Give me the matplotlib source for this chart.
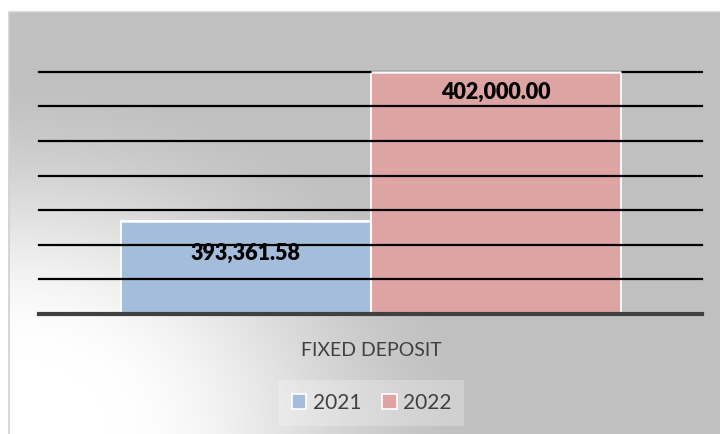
import numpy as np
import matplotlib
matplotlib.use("Agg")
import matplotlib.pyplot as plt
from matplotlib.patches import Patch

# ---- data ----
category = "FIXED DEPOSIT"
series_names = ["2021", "2022"]
values = [393361.58, 402000.00]
value_labels = ["393,361.58", "402,000.00"]
colors = ["#a3bddb", "#dea3a3"]

y_min, y_max, y_step = 388000, 402000, 2000

W, H, DPI = 720, 434, 100
fig = plt.figure(figsize=(W / DPI, H / DPI), dpi=DPI)
fig.patch.set_facecolor("white")

# ---- background gradient (chart area) ----
x0, y0 = 9, 12
bg = fig.add_axes([0, 0, 1, 1], zorder=0)
bg.set_axis_off()
xx, yy = np.meshgrid(np.arange(W) + 0.5, np.arange(H) + 0.5)
dx = xx - x0
dy = (H - yy) * 1.3
r = np.sqrt(dx ** 2 + dy ** 2)
t = np.clip((r - 100) / 380, 0, 1)
t = t * t * (3 - 2 * t)
gray = 192 / 255
img = 1 - (1 - gray) * t
img[(xx < x0) | (yy < y0)] = 1.0
bg.imshow(np.dstack([img, img, img]), extent=[0, W, H, 0], aspect="auto",
          interpolation="bilinear")
bg.set_xlim(0, W)
bg.set_ylim(H, 0)
bg.plot([x0, x0, W], [H, y0, y0], color="#cfcfcf", lw=1.2)

# ---- main axes ----
left_px, right_px = 39, 702
axis_y_px, top_px = 314, 71.7
ax = fig.add_axes([left_px / W, (H - axis_y_px) / H,
                   (right_px - left_px) / W, (axis_y_px - top_px) / H], zorder=1)
ax.patch.set_alpha(0)
ax.set_xlim(-0.5, 0.5)
ax.set_ylim(y_min, y_max)

bar_w = 250 / (right_px - left_px)
xpos = [-bar_w / 2, bar_w / 2]
ax.bar(xpos, [v - y_min for v in values], bottom=y_min, width=bar_w,
       color=colors, edgecolor="white", linewidth=1.3, zorder=1, clip_on=False)

for gy in np.arange(y_min + y_step, y_max + 1, y_step):
    ax.axhline(gy, color="black", lw=1.6, zorder=2, clip_on=False)
for xp, v in zip(xpos, values):
    ax.hlines(v, xp - bar_w / 2, xp + bar_w / 2, color="white", lw=1.8,
              zorder=2.5, clip_on=False)

ax.axhline(y_min, color="#404040", lw=3.0, zorder=3, clip_on=False)

for sp in ax.spines.values():
    sp.set_visible(False)
ax.set_xticks([])
ax.set_yticks([])

font = "Lato"
offsets = [-32, -21]
for xp, v, lab, off in zip(xpos, values, value_labels, offsets):
    ax.annotate(lab, (xp, v), xytext=(0, off), textcoords="offset pixels",
                ha="center", va="center", fontsize=15.5, fontweight="heavy",
                family=font, color="black", zorder=4)

fig.text(371 / W, 1 - 351 / H, category, ha="center", va="center",
         fontsize=14, family=font, color="#404040", zorder=5)

handles = [Patch(facecolor=c, edgecolor="white", linewidth=1.2) for c in colors]
leg = fig.legend(handles, series_names, loc="center",
                 bbox_to_anchor=(371.5 / W, 1 - 403 / H),
                 ncol=2, frameon=True, handlelength=0.7, handleheight=0.7,
                 handletextpad=0.3, columnspacing=1.0, borderpad=0.62,
                 prop={"family": font, "size": 15})
leg.get_frame().set_facecolor("white")
leg.get_frame().set_alpha(0.25)
leg.get_frame().set_edgecolor("none")
leg.get_frame().set_boxstyle("square", pad=0)
for txt in leg.get_texts():
    txt.set_color("#404040")
leg.set_zorder(5)

fig.savefig("out.png", dpi=DPI)
